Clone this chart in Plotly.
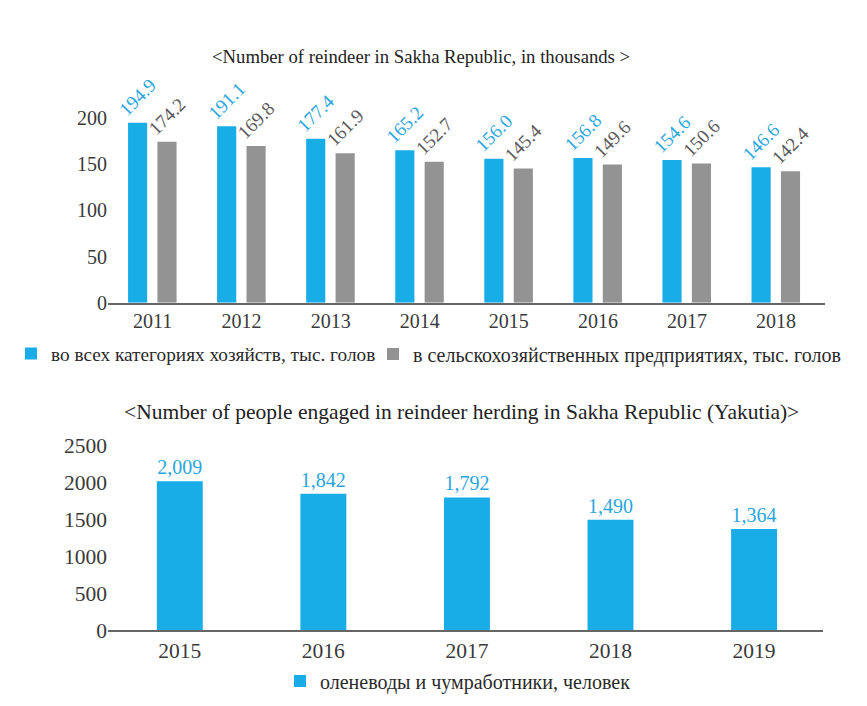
import plotly.graph_objects as go

# ── data ──────────────────────────────────────────────────────────────────────
years_top = ["2011", "2012", "2013", "2014", "2015", "2016", "2017", "2018"]
all_farms = [194.9, 191.1, 177.4, 165.2, 156.0, 156.8, 154.6, 146.6]
agri_enterprises = [174.2, 169.8, 161.9, 152.7, 145.4, 149.6, 150.6, 142.4]

years_bottom = ["2015", "2016", "2017", "2018", "2019"]
herders = [2009, 1842, 1792, 1490, 1364]

name_all = "во всех категориях хозяйств, тыс. голов"
name_agri = "в сельскохозяйственных предприятиях, тыс. голов"
name_herders = "оленеводы и чумработники, человек"

title_top = "<Number of reindeer in Sakha Republic, in thousands >"
title_bottom = "<Number of people engaged in reindeer herding in Sakha Republic (Yakutia)>"

BLUE = "#19ADE8"
BLUE_TXT = "#2AA6DE"
GRAY = "#939393"
SERIF = "Liberation Serif, Times New Roman, serif"
W, H = 867, 706
PAGE_OFFSET = 8  # the page body margin shifts the figure by this much


def xp(px):
    # screen pixel -> paper fraction
    return (px - PAGE_OFFSET) / W


def yp(py):
    return (H - (py - PAGE_OFFSET)) / H


fig = go.Figure()

# ── top chart: reindeer ───────────────────────────────────────────────────────
fig.add_trace(go.Bar(
    name=name_all, x=years_top, y=all_farms,
    width=0.215, offset=-0.275,
    marker_color=BLUE, marker_line_width=0,
    text=[f"{v:.1f}" for v in all_farms],
    textposition="outside", textangle=-45, constraintext="none",
    textfont=dict(family=SERIF, size=19, color=BLUE_TXT),
    cliponaxis=False, xaxis="x", yaxis="y",
    legend="legend", showlegend=True,
))
fig.add_trace(go.Bar(
    name=name_agri, x=years_top, y=agri_enterprises,
    width=0.215, offset=0.055,
    marker_color=GRAY, marker_line_width=0,
    text=[f"{v:.1f}" for v in agri_enterprises],
    textposition="outside", textangle=-45, constraintext="none",
    textfont=dict(family=SERIF, size=19, color="#5a5a5a"),
    cliponaxis=False, xaxis="x", yaxis="y",
    legend="legend3", showlegend=True,
))

# ── bottom chart: herders ─────────────────────────────────────────────────────
fig.add_trace(go.Bar(
    name=name_herders, x=years_bottom, y=herders,
    width=0.32,
    marker_color=BLUE, marker_line_width=0,
    texttemplate="%{y:,}",
    textposition="outside", constraintext="none",
    textfont=dict(family=SERIF, size=20, color=BLUE_TXT),
    cliponaxis=False, xaxis="x2", yaxis="y2",
    legend="legend2", showlegend=True,
))


def ax_style(size):
    return dict(
        showgrid=False, zeroline=False, ticks="",
        tickfont=dict(family=SERIF, size=size, color="#3a3a3a"),
    )


def legend_at(px, py, size=20):
    return dict(
        orientation="h", x=xp(px), xanchor="left", y=yp(py), yanchor="middle",
        font=dict(family=SERIF, size=size, color="#2a2a2a"),
        itemwidth=30, bgcolor="rgba(0,0,0,0)", visible=True,
    )


fig.update_layout(
    width=W, height=H,
    margin=dict(l=0, r=0, t=0, b=0, autoexpand=False),
    paper_bgcolor="white", plot_bgcolor="white",
    barmode="overlay", showlegend=True,
    font=dict(family=SERIF, color="#333333"),
    xaxis=dict(
        domain=[xp(108), xp(825)], anchor="y", type="category",
        range=[-0.5, 7.55], showline=True, linecolor="#666666", linewidth=1.5,
        **ax_style(20),
    ),
    yaxis=dict(
        domain=[yp(302.7), yp(118)], anchor="x", range=[0, 200],
        tickvals=[0, 50, 100, 150, 200], showline=False,
        **ax_style(20),
    ),
    xaxis2=dict(
        domain=[xp(108), xp(823)], anchor="y2", type="category",
        range=[-0.5, 4.48], showline=True, linecolor="#666666", linewidth=1.5,
        **ax_style(21.5),
    ),
    yaxis2=dict(
        domain=[yp(630), yp(445)], anchor="x2", range=[0, 2500],
        tickvals=[0, 500, 1000, 1500, 2000, 2500], tickformat="d", showline=False,
        **ax_style(21.5),
    ),
    legend=legend_at(11, 354, 19.3),
    legend3=legend_at(373, 354),
    legend2=legend_at(280, 681),
    annotations=[
        dict(text=title_top, x=xp(421), y=yp(57), yanchor="middle",
             xref="paper", yref="paper", showarrow=False,
             font=dict(family=SERIF, size=18.7, color="#222222")),
        dict(text=title_bottom, x=xp(462), y=yp(412), yanchor="middle",
             xref="paper", yref="paper", showarrow=False,
             font=dict(family=SERIF, size=21.5, color="#222222")),
    ],
)

fig.write_html("out.html")
